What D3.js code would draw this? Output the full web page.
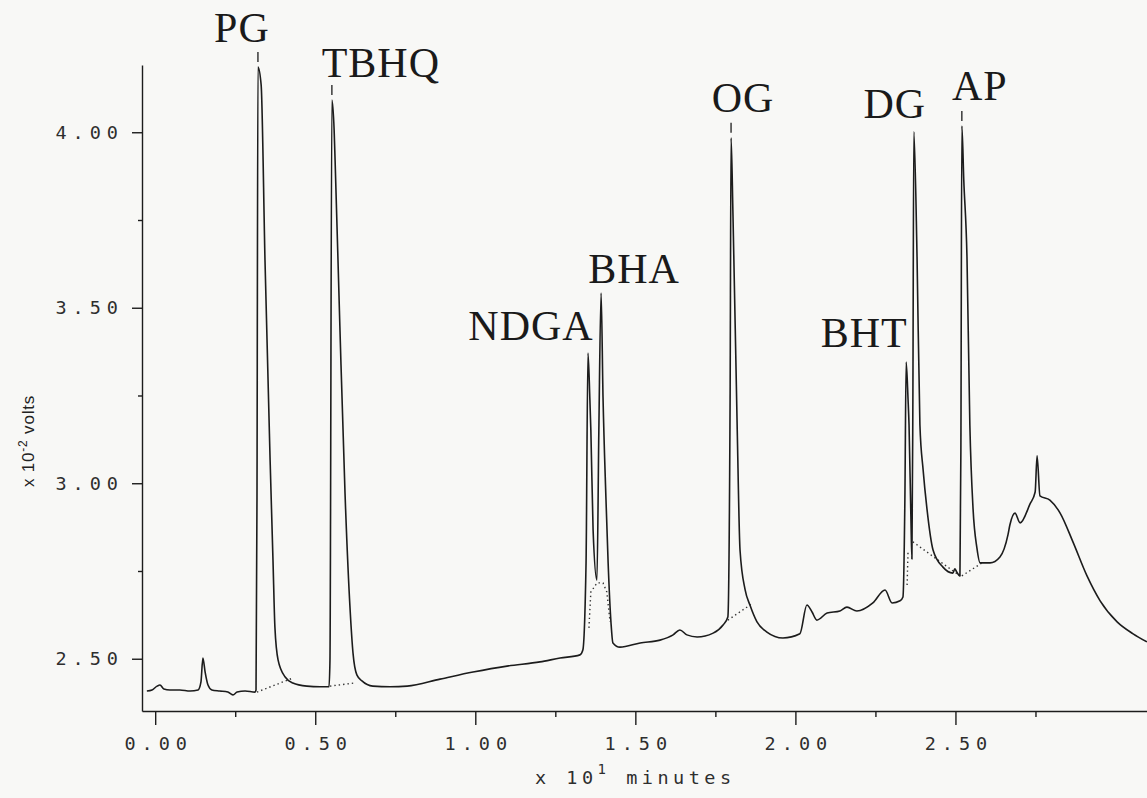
<!DOCTYPE html>
<html><head><meta charset="utf-8">
<script src="https://cdn.jsdelivr.net/npm/d3@7"></script>
<style>
html,body{margin:0;padding:0;background:#f8f8f6;}
svg{display:block;}
</style></head><body>
<svg id="chart" width="1147" height="798"></svg>
<script>
// ---- data (x 10^1 minutes, x 10^-2 volts) ----
const retentionTime = [-0.026,-0.010,0.006,0.015,0.027,0.046,0.077,0.109,0.134,0.143,0.149,0.156,0.165,0.177,0.202,0.227,0.243,0.256,0.281,0.312,0.315,0.318,0.321,0.331,0.343,0.359,0.368,0.374,0.384,0.406,0.430,0.474,0.515,0.543,0.546,0.552,0.559,0.562,0.577,0.593,0.609,0.618,0.630,0.646,0.680,0.734,0.787,0.890,0.993,1.099,1.202,1.265,1.327,1.336,1.346,1.352,1.358,1.361,1.368,1.380,1.386,1.393,1.399,1.408,1.415,1.424,1.430,1.452,1.515,1.577,1.618,1.639,1.661,1.693,1.743,1.774,1.789,1.796,1.799,1.805,1.818,1.827,1.843,1.858,1.880,1.911,1.961,2.014,2.036,2.052,2.067,2.099,2.139,2.161,2.192,2.242,2.280,2.302,2.327,2.336,2.342,2.346,2.352,2.355,2.361,2.364,2.367,2.370,2.380,2.389,2.399,2.411,2.430,2.461,2.492,2.498,2.504,2.514,2.517,2.520,2.526,2.536,2.545,2.555,2.567,2.577,2.608,2.639,2.664,2.670,2.686,2.702,2.733,2.749,2.755,2.764,2.795,2.827,2.867,2.911,2.952,3.005,3.055,3.098];
const signal = [2.408,2.411,2.422,2.425,2.414,2.411,2.411,2.408,2.411,2.434,2.502,2.462,2.425,2.411,2.408,2.405,2.397,2.405,2.408,2.405,2.411,2.952,4.186,4.135,3.636,3.066,2.781,2.590,2.496,2.448,2.431,2.422,2.420,2.420,2.496,4.092,4.006,3.921,3.445,2.972,2.639,2.516,2.454,2.437,2.422,2.420,2.422,2.442,2.462,2.479,2.491,2.502,2.511,2.525,2.773,3.371,3.237,3.152,2.867,2.724,3.152,3.542,3.246,2.961,2.773,2.602,2.545,2.533,2.545,2.553,2.568,2.582,2.568,2.562,2.573,2.596,2.619,3.237,3.984,3.764,3.166,2.810,2.696,2.653,2.605,2.576,2.559,2.571,2.653,2.633,2.610,2.630,2.636,2.647,2.636,2.659,2.696,2.659,2.665,2.676,2.952,3.345,3.237,3.166,2.895,2.784,3.237,4.001,3.645,3.166,3.038,2.927,2.810,2.761,2.744,2.756,2.747,2.736,3.095,4.018,3.864,3.645,3.166,2.927,2.816,2.773,2.773,2.790,2.853,2.881,2.915,2.887,2.941,2.975,3.078,2.964,2.952,2.915,2.833,2.736,2.665,2.605,2.571,2.548];

const peakNames = ["PG","TBHQ","NDGA","BHA","OG","BHT","DG","AP"];
const peakTimes = [0.321,0.552,1.352,1.393,1.799,2.346,2.370,2.520];
const peakTops  = [4.186,4.092,3.371,3.542,3.984,3.345,4.001,4.018];
const markedPeaks = ["PG","TBHQ","OG","AP"];

const majorTimeTicks = [0,0.5,1,1.5,2,2.5];
const minorTimeTicks = [0.25,0.75,1.25,1.75,2.25,2.75];
const majorVoltTicks = [2.5,3,3.5,4];
const minorVoltTicks = [2.75,3.25,3.75];

// dotted integration baselines: [time, volts] pairs
const integrationBaselines = [
  [[0.318,2.405],[0.430,2.445]],
  [[0.546,2.422],[0.624,2.431]],
  [[1.355,2.588],[1.361,2.690],[1.380,2.716],[1.399,2.716],[1.411,2.690],[1.421,2.605]],
  [[1.789,2.610],[1.868,2.659]],
  [[2.349,2.710],[2.352,2.810]],
  [[2.367,2.833],[2.514,2.736]],
  [[2.520,2.736],[2.583,2.773]]
];

// ---- layout ----
const labelOffsets = {PG:[-16,-25],TBHQ:[49,-23],NDGA:[-57,-13],BHA:[33,-10],OG:[12,-26],BHT:[-42,-15],DG:[-19,-14],AP:[18,-26]};
const ink = "#1c1c1c";
const plotterFont = "'DejaVu Sans Mono', monospace";

const svg = d3.select("#chart");
const xScale = d3.scaleLinear().domain([-0.0412, 3.0984]).range([142, 1147]);
const yScale = d3.scaleLinear().domain([2.3511, 4.1916]).range([711, 65]);

// axes
const xAxis = svg.append("g").attr("transform", `translate(0,${yScale.range()[0]})`)
  .call(d3.axisBottom(xScale).tickValues(majorTimeTicks).tickSize(14).tickSizeOuter(0).tickPadding(12).tickFormat(d3.format(".2f")));
svg.append("g").attr("transform", `translate(0,${yScale.range()[0]})`)
  .call(d3.axisBottom(xScale).tickValues(minorTimeTicks).tickSize(6).tickSizeOuter(0).tickFormat(""))
  .select(".domain").remove();
const yAxis = svg.append("g").attr("transform", `translate(${xScale.range()[0]},0)`)
  .call(d3.axisLeft(yScale).tickValues(majorVoltTicks).tickSize(10).tickSizeOuter(0).tickPadding(14).tickFormat(d3.format(".2f")));
svg.append("g").attr("transform", `translate(${xScale.range()[0]},0)`)
  .call(d3.axisLeft(yScale).tickValues(minorVoltTicks).tickSize(4).tickSizeOuter(0).tickFormat(""))
  .select(".domain").remove();

svg.selectAll(".domain, .tick line").attr("stroke", ink).attr("stroke-width", 1.4);
xAxis.selectAll("text").attr("font-family", plotterFont).attr("font-size", 18.5)
  .attr("letter-spacing", 6).attr("dx", 3).attr("fill", "#2e2e2e");
yAxis.selectAll("text").attr("font-family", plotterFont).attr("font-size", 18.5)
  .attr("letter-spacing", 6).attr("dx", 6).attr("fill", "#2e2e2e");

// axis titles
const xt = svg.append("text").attr("x", 535).attr("y", 784)
  .attr("font-family", plotterFont).attr("font-size", 18.5).attr("letter-spacing", 4.5).attr("fill", "#2e2e2e");
xt.append("tspan").text("x 10");
xt.append("tspan").attr("dy", -10).attr("font-size", 14).text("1");
xt.append("tspan").attr("dy", 10).text(" minutes");

const yt = svg.append("text").attr("transform", "translate(34,441) rotate(-90)")
  .attr("text-anchor", "middle").attr("font-family", "'Liberation Sans', Arial, sans-serif")
  .attr("font-size", 17).attr("letter-spacing", 0.8).attr("fill", "#222");
yt.append("tspan").text("x 10");
yt.append("tspan").attr("dy", -7).attr("font-size", 12).text("-2");
yt.append("tspan").attr("dy", 7).text(" volts");

// integration baselines (dotted)
const line = d3.line().x(d => xScale(d[0])).y(d => yScale(d[1]));
svg.append("g").selectAll("path").data(integrationBaselines).join("path")
  .attr("d", line).attr("fill", "none").attr("stroke", "#333")
  .attr("stroke-width", 1.4).attr("stroke-dasharray", "1.4,3");

// chromatogram trace
const trace = d3.zip(retentionTime, signal);
const traceLine = d3.line().x(d => xScale(d[0])).y(d => yScale(d[1])).curve(d3.curveMonotoneX);
svg.append("path").datum(trace).attr("d", traceLine)
  .attr("fill", "none").attr("stroke", ink).attr("stroke-width", 1.6).attr("stroke-linejoin", "round");

// peaks: markers & labels
const peaks = peakNames.map((n, i) => ({name: n, t: peakTimes[i], v: peakTops[i]}));
svg.append("g").selectAll("line").data(peaks.filter(p => markedPeaks.includes(p.name))).join("line")
  .attr("x1", p => xScale(p.t)).attr("x2", p => xScale(p.t))
  .attr("y1", p => yScale(p.v) - 5).attr("y2", p => yScale(p.v) - 15)
  .attr("stroke", ink).attr("stroke-width", 1.3);
svg.append("g").selectAll("text").data(peaks).join("text")
  .attr("x", p => xScale(p.t) + labelOffsets[p.name][0])
  .attr("y", p => yScale(p.v) + labelOffsets[p.name][1])
  .attr("text-anchor", "middle")
  .attr("font-family", "'Liberation Serif', 'Times New Roman', serif")
  .attr("font-size", 42).attr("letter-spacing", 1).attr("fill", "#1a1a1a")
  .text(p => p.name);
</script>
</body></html>
